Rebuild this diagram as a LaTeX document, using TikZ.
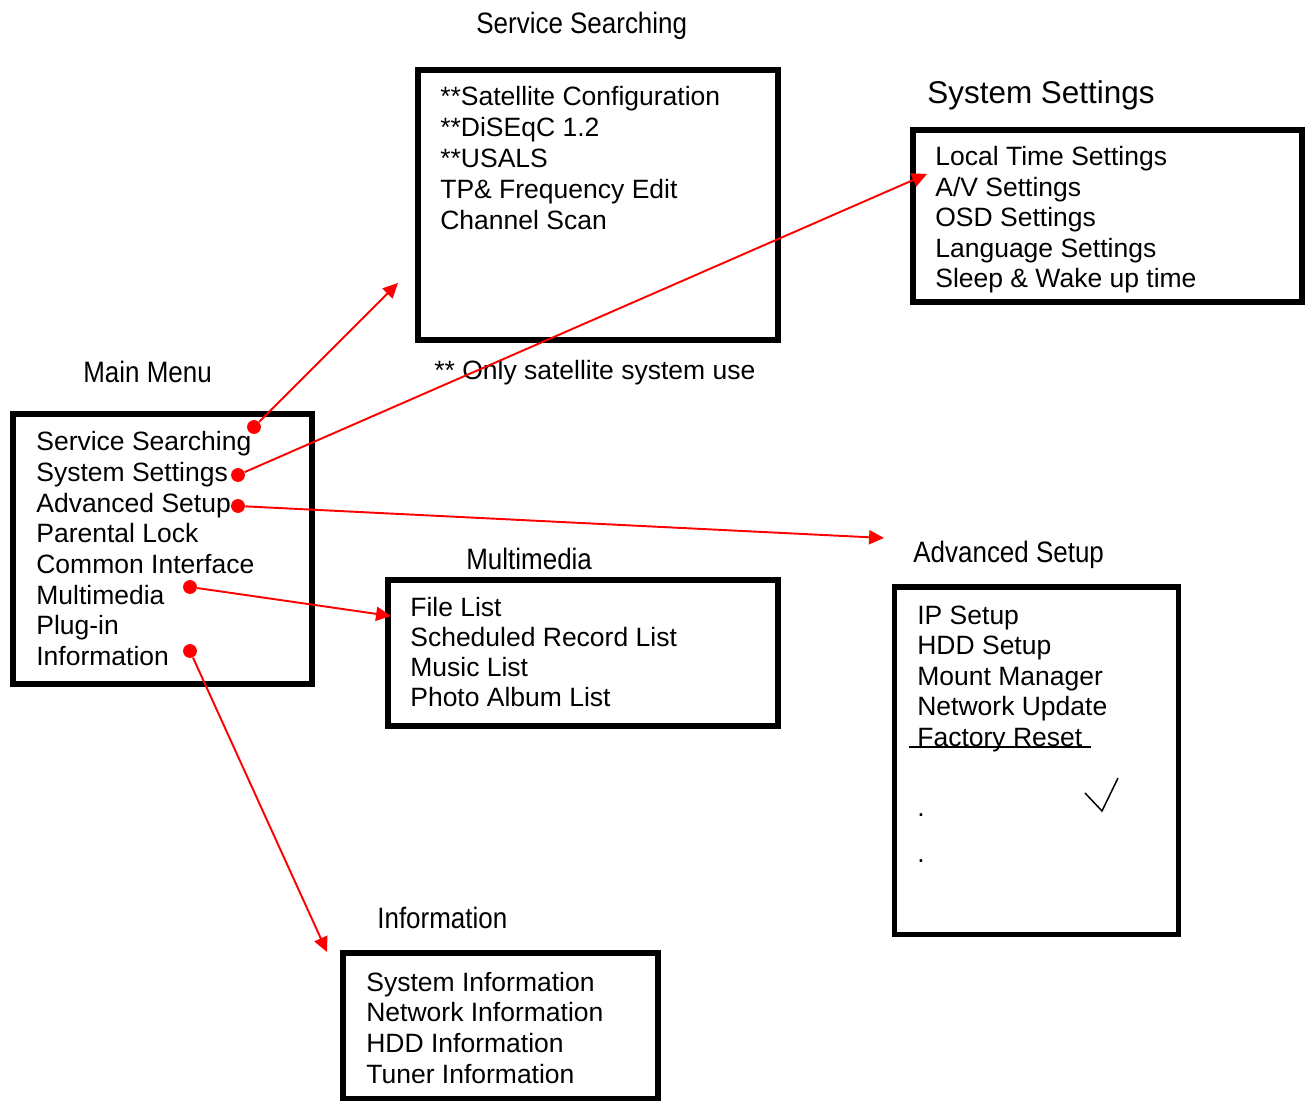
\documentclass[tikz,border=0pt]{standalone}
\usepackage{fontspec}
\setmainfont{Liberation Sans}
\newfontfamily\narrowfont[FakeStretch=0.88]{Liberation Sans}
\usetikzlibrary{arrows.meta,fit}

\tikzset{
  menubox/.style={draw, line width=3.1pt, inner sep=0pt},
  item/.style={anchor=base west, inner sep=0pt, font=\fontsize{15.08pt}{17.35pt}\selectfont},
  heading/.style={anchor=base west, inner sep=0pt, font=\narrowfont\fontsize{16.8pt}{19pt}\selectfont},
  dot/.style={circle, fill=red, inner sep=0pt, minimum size=7.9pt},
  link/.style={red, line width=1.1pt, -{Triangle[length=8.5pt,width=8pt]}}
}

\begin{document}
\begin{tikzpicture}[x=0.02cm, y=-0.02cm]
                \useasboundingbox (0,0) rectangle (1305,1101);

                % boxes
                \node[menubox, fit={(13,414) (312,684)}] (mainbox) {};
                \node[menubox, fit={(418,70) (778,340)}] (servbox) {};
                \node[menubox, fit={(913,130) (1302,302)}] (sysbox) {};
                \node[menubox, fit={(388,580) (778,726)}] (multbox) {};
                \node[menubox, fit={(894.5,587) (1178.5,934.5)}] (advbox) {};
                \node[menubox, fit={(343,953) (658,1099)}] (infobox) {};

                % headings
                \node[heading] (mainttl) at (83,383) {Main Menu};
                \node[heading] (servttl) at (476,34) {Service Searching};
                \node[anchor=base west, inner sep=0pt, font=\fontsize{17.9pt}{20pt}\selectfont] (systtl) at (927,104) {System Settings};
                \node[heading] (multttl) at (466,569) {Multimedia};
                \node[heading] (advttl) at (913,562) {Advanced Setup};
                \node[heading] (infottl) at (377,928) {Information};
                \node[item] (note) at (434,380) {** Only satellite system use};

                % menu entries
                \foreach \t [count=\i from 0] in {Service Searching, System Settings, Advanced Setup, Parental Lock, Common Interface, Multimedia, Plug-in, Information}
                    \node[item] (main\i) at (36, 451+30.6*\i) {\t};
                \foreach \t [count=\i from 0] in {**Satellite Configuration, **DiSEqC 1.2, **USALS, TP\& Frequency Edit, Channel Scan}
                    \node[item] (serv\i) at (440, 106+30.8*\i) {\t};
                \foreach \t [count=\i from 0] in {Local Time Settings, A/V Settings, OSD Settings, Language Settings, Sleep \& Wake up time}
                    \node[item] (sys\i) at (935, 166+30.4*\i) {\t};
                \foreach \t [count=\i from 0] in {File List, Scheduled Record List, Music List, Photo Album List}
                    \node[item] (mult\i) at (410, 616+30.2*\i) {\t};
                \foreach \t [count=\i from 0] in {IP Setup, HDD Setup, Mount Manager, Network Update, Factory Reset}
                    \node[item] (adv\i) at (917, 624+30.5*\i) {\t};
                \foreach \t [count=\i from 0] in {System Information, Network Information, HDD Information, Tuner Information}
                    \node[item] (info\i) at (366, 991+30.9*\i) {\t};

                \draw[line width=0.7pt] (909,747) -- (1091,747);
                \node[item] (advdotA) at (917,816) {.};
                \node[item] (advdotB) at (917,862) {.};
                \draw[line width=0.85pt] (1085,793) -- (1102,811) -- (1118,778);

                % arrows
                \node[dot] (dserv) at (254,427) {};
                \node[dot] (dsys) at (238,475) {};
                \node[dot] (dadv) at (238,506) {};
                \node[dot] (dmult) at (190,587) {};
                \node[dot] (dinfo) at (190,651) {};

                \coordinate (tserv) at (398,283);
                \coordinate (tsys) at (927,174);
                \coordinate (tadv) at (884,538);
                \coordinate (tmult) at (391,616);
                \coordinate (tinfo) at (327,952);

                \draw[link] (dserv) -- (tserv);
                \draw[link] (dsys) -- (tsys);
                \draw[link] (dadv) -- (tadv);
                \draw[link] (dmult) -- (tmult);
                \draw[link] (dinfo) -- (tinfo);
            \end{tikzpicture}
\end{document}
